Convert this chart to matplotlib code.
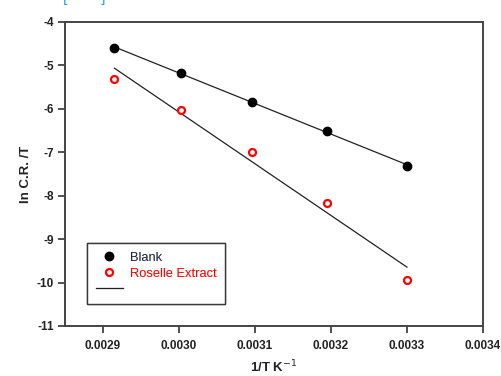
import numpy as np
import matplotlib
matplotlib.use("Agg")
import matplotlib.pyplot as plt
from matplotlib.lines import Line2D

plt.rcParams['font.family'] = ['Liberation Sans', 'DejaVu Sans']

inv_T = [0.002915, 0.003003, 0.003096, 0.003195, 0.003300]
blank = [-4.60, -5.18, -5.84, -6.51, -7.32]
roselle = [-5.31, -6.03, -6.99, -8.16, -9.94]

xticks = [0.0029, 0.0030, 0.0031, 0.0032, 0.0033, 0.0034]
yticks = [-4, -5, -6, -7, -8, -9, -10, -11]

fig = plt.figure(figsize=(5.02, 3.76), dpi=100)
ax = fig.add_axes([0.1295, 0.133, 0.8325, 0.8085])

x = np.array(inv_T)
for ys in (blank, roselle):
    p = np.polyfit(x, ys, 1)
    ax.plot(x[[0, -1]], np.polyval(p, x[[0, -1]]), color='#222222', lw=0.9, zorder=2)

ax.plot(inv_T, blank, 'o', color='black', ms=6, zorder=3, ls='none')
ax.plot(inv_T, roselle, 'o', mfc='white', mec='red', mew=1.6, ms=5, zorder=3, ls='none')

ax.set_xlim(0.00285, 0.0034)
ax.set_ylim(-11, -4)
ax.set_xticks(xticks)
ax.set_xticklabels([f"{v:.4f}" for v in xticks])
ax.set_yticks(yticks)
ax.set_yticklabels([str(v) for v in yticks])
for lab in ax.get_xticklabels() + ax.get_yticklabels():
    lab.set_fontsize(8.5)
    lab.set_fontweight('bold')
    lab.set_color('#222222')
ax.tick_params(direction='out', length=5, width=1.2, color='#333333', pad=5)
ax.tick_params(axis='y', pad=3)
for s in ax.spines.values():
    s.set_linewidth(1.4)
    s.set_color('#444444')

ax.set_xlabel('1/T K$^{-1}$', fontsize=9.5, fontweight='bold', labelpad=5, color='#222222')
ax.set_ylabel('ln C.R. /T', fontsize=9.5, fontweight='bold', labelpad=3, color='#222222')

handles = [
    Line2D([], [], marker='o', color='black', ls='none', ms=6),
    Line2D([], [], marker='o', mfc='white', mec='red', mew=1.6, ms=5, ls='none'),
    Line2D([], [], color='#222222', lw=0.9),
]
labels = ['Blank', 'Roselle Extract', ' ']
leg = ax.legend(handles, labels, loc='lower left', bbox_to_anchor=(0.053, 0.072),
                borderaxespad=0, prop={'size': 9.3}, frameon=True, fancybox=False,
                edgecolor='#222222', handlelength=2.1, labelspacing=0.3,
                borderpad=0.65, handletextpad=0.6)
leg.get_frame().set_linewidth(1.0)
leg.get_texts()[1].set_color('red')
leg.get_texts()[0].set_color('#222244')
ax.add_artist(leg)

fig.text(0.125, 1.005, '[        ]', color='#2a9df4', fontsize=11, va='center', ha='left')

fig.savefig('out.png', dpi=100)
